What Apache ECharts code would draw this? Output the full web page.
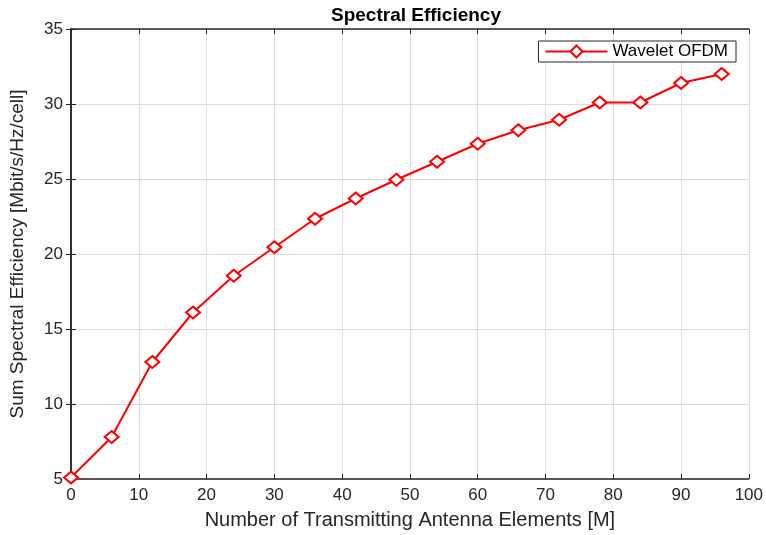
<!DOCTYPE html>
<html>
<head>
<meta charset="utf-8">
<script src="https://cdn.jsdelivr.net/npm/echarts@6/dist/echarts.min.js"></script>
<style>
  html, body { margin: 0; padding: 0; background: #fff; }
  #chart { width: 766px; height: 535px; }
</style>
</head>
<body>
<div id="chart"></div>
<script>
// antenna elements M
const antennas = [0, 6, 12, 18, 24, 30, 36, 42, 48, 54, 60, 66, 72, 78, 84, 90, 96];
// sum spectral efficiency, Mbit/s/Hz/cell
const waveletOfdm = [5.1, 7.8, 12.8, 16.1, 18.55, 20.45, 22.35, 23.7, 24.95, 26.15, 27.35, 28.25, 28.95, 30.1, 30.1, 31.4, 32.0];

const font = "Liberation Sans, Arial, sans-serif";
const axisColor = "#262626";

const chart = echarts.init(document.getElementById("chart"));

const pairs = antennas.map((m, i) => [m, waveletOfdm[i]]);

const frameAxis = {
  axisLine: { show: true, lineStyle: { color: axisColor, width: 1.5 } },
  axisTick: { show: true, inside: true, length: 5, lineStyle: { color: axisColor } },
  axisLabel: { show: false },
  splitLine: { show: false },
};

chart.setOption({
  animation: false,
  title: {
    text: "Spectral Efficiency",
    left: 411,
    textAlign: "center",
    top: 1,
    textStyle: { fontFamily: font, fontSize: 19, fontWeight: "bold", color: "#000" },
  },
  legend: {
    right: 30,
    top: 41,
    itemWidth: 62,
    itemHeight: 15,
    itemGap: 6,
    padding: [2, 8, 2, 6],
    borderColor: axisColor,
    borderWidth: 1,
    backgroundColor: "#fff",
    textStyle: { fontFamily: font, fontSize: 17, color: "#000" },
    data: ["Wavelet OFDM"],
  },
  grid: { left: 70, right: 14, top: 29, bottom: 55 },
  xAxis: [
    {
      type: "value",
      min: 0,
      max: 100,
      interval: 10,
      name: "Number of Transmitting Antenna Elements [M]",
      nameLocation: "middle",
      nameGap: 31,
      nameTextStyle: { fontFamily: font, fontSize: 20, color: "#262626" },
      axisLine: { show: true, onZero: false, lineStyle: { color: axisColor, width: 1.5 } },
      axisTick: { show: true, inside: true, length: 5, lineStyle: { color: axisColor } },
      axisLabel: { fontFamily: font, fontSize: 17, color: "#262626", margin: 8 },
      splitLine: { show: true, lineStyle: { color: "#dcdcdc", width: 1 } },
    },
    Object.assign({ type: "value", position: "top", min: 0, max: 100, interval: 10 }, frameAxis),
  ],
  yAxis: [
    {
      type: "value",
      min: 5,
      max: 35,
      interval: 5,
      name: "Sum Spectral Efficiency [Mbit/s/Hz/cell]",
      nameLocation: "middle",
      nameGap: 44,
      nameTextStyle: { fontFamily: font, fontSize: 19, color: "#262626" },
      axisLine: { show: true, onZero: false, lineStyle: { color: axisColor, width: 1.5 } },
      axisTick: { show: true, inside: true, length: 5, lineStyle: { color: axisColor } },
      axisLabel: { fontFamily: font, fontSize: 17, color: "#262626", margin: 8 },
      splitLine: { show: true, lineStyle: { color: "#dcdcdc", width: 1 } },
    },
    Object.assign({ type: "value", position: "right", min: 5, max: 35, interval: 5 }, frameAxis),
  ],
  series: [
    {
      name: "Wavelet OFDM",
      type: "line",
      data: pairs,
      symbol: "path://M0,-1L1,0L0,1L-1,0Z",
      symbolSize: [14, 12],
      showAllSymbol: true,
      lineStyle: { color: "#ff0000", width: 2 },
      itemStyle: { color: "#fff", borderColor: "#ff0000", borderWidth: 2 },
      emphasis: { disabled: true },
    },
  ],
});
</script>
</body>
</html>
